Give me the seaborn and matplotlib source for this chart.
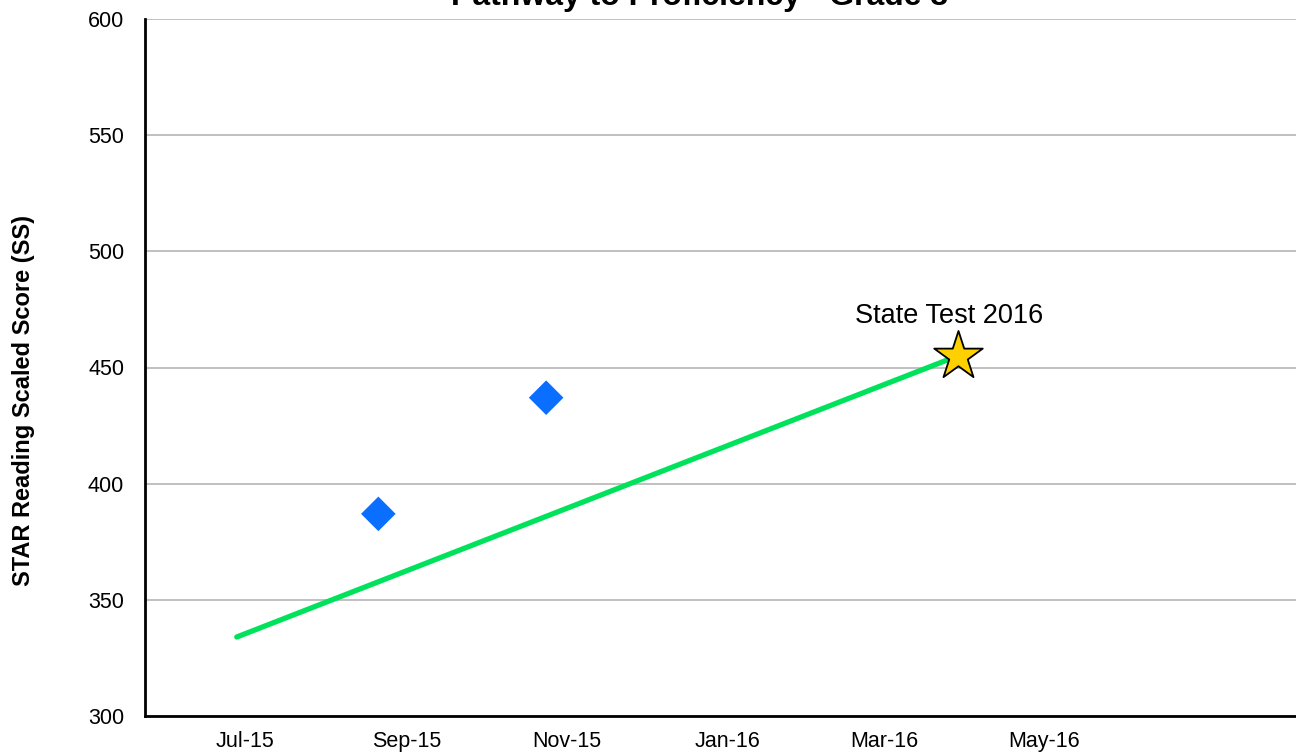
import pandas as pd
import seaborn as sns
import matplotlib.pyplot as plt
import matplotlib.dates as mdates

# Data
goal_dates = ["2015-06-28", "2016-03-29"]
goal_scores = [334, 455]
test_dates = ["2015-08-21", "2015-10-24"]
test_scores = [387, 437]
state_date = "2016-03-29"
state_score = 455
state_label = "State Test 2016"
tick_dates = ["2015-07-01", "2015-09-01", "2015-11-01", "2016-01-01", "2016-03-01", "2016-05-01"]
y_ticks = [300, 350, 400, 450, 500, 550, 600]

goal = pd.DataFrame({"date": pd.to_datetime(goal_dates), "score": goal_scores})
tests = pd.DataFrame({"date": pd.to_datetime(test_dates), "score": test_scores})
state = pd.DataFrame({"date": pd.to_datetime([state_date]), "score": [state_score]})

sns.set_style("white")
plt.rcParams["font.family"] = ["Liberation Sans", "DejaVu Sans"]
plt.rcParams["text.color"] = "black"
plt.rcParams["xtick.color"] = "black"
plt.rcParams["ytick.color"] = "black"

fig = plt.figure(figsize=(12.96, 7.53), dpi=100)
ax = fig.add_axes([145 / 1296, 1 - 716 / 753, 1 - 145 / 1296, (716 - 19) / 753])

sns.lineplot(data=goal, x="date", y="score", ax=ax, color="#00E25B", linewidth=3.8, zorder=3)
sns.scatterplot(data=tests, x="date", y="score", ax=ax, marker="D", s=310,
                color="#0A6EFF", edgecolor="none", zorder=4)
sns.scatterplot(data=state, x="date", y="score", ax=ax, marker="*", s=1350,
                color="#FFD000", edgecolor="black", linewidth=1.3, zorder=5)
ax.annotate(state_label, (mdates.date2num(state["date"][0]), state_score),
            xytext=(-6, 19), textcoords="offset points", ha="center", va="bottom",
            fontsize=19.5)

ax.set_xlim(pd.Timestamp("2015-05-24"), pd.Timestamp("2016-08-05"))
ax.set_ylim(300, 600)
ax.set_yticks(y_ticks)
ax.set_xticks(pd.to_datetime(tick_dates))
ax.xaxis.set_major_formatter(mdates.DateFormatter("%b-%y"))
ax.tick_params(axis="both", length=0, labelsize=15.5)
ax.tick_params(axis="x", pad=11)
ax.tick_params(axis="y", pad=15)
ax.grid(axis="y", color="#BBBBBB", linewidth=1.3)
ax.set_axisbelow(True)

for side in ["top", "right"]:
    ax.spines[side].set_visible(False)
for side in ["left", "bottom"]:
    ax.spines[side].set_color("black")
    ax.spines[side].set_linewidth(2)

ax.set_xlabel("")
ax.set_ylabel("")
fig.text(24 / 1296, 1 - 401 / 753, "STAR Reading Scaled Score (SS)", rotation=90,
         ha="center", va="center", fontsize=17, fontweight="bold")
# the title sits partly above the figure edge, as in the reference
fig.text(700 / 1296, 1 - 5 / 753, "Pathway to Proficiency - Grade 3",
         ha="center", va="baseline", fontsize=23, fontweight="bold")

fig.savefig("out.png", dpi=100)
